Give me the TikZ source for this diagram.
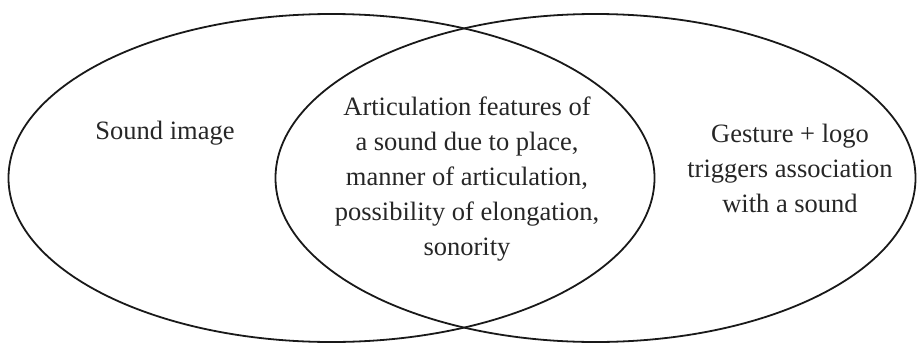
\documentclass[tikz,border=0pt]{standalone}
\usepackage{fontspec}
\setmainfont{Liberation Serif}
\usetikzlibrary{shapes.geometric}
\begin{document}
\begin{tikzpicture}[x=1pt,y=-1pt,
  setoval/.style={draw=black!90, line width=1.8pt, ellipse, inner sep=0pt, minimum width=646pt, minimum height=328pt},
  lbl/.style={align=center, inner sep=0pt, font=\fontsize{26.5}{35}\selectfont, text=black!85}]
\useasboundingbox (0,0) rectangle (917,343);
\node[setoval] (L) at (331.5,178) {};
\node[setoval, minimum width=640pt] (R) at (595.5,178) {};
\node[lbl] (ls) at (165,133) {Sound image};
\node[lbl] (mid) at (467,179) {Articulation features of\\a sound due to place,\\manner of articulation,\\possibility of elongation,\\sonority};
\node[lbl] (rs) at (790,168) {Gesture + logo\\triggers association\\with a sound};
\end{tikzpicture}
\end{document}
